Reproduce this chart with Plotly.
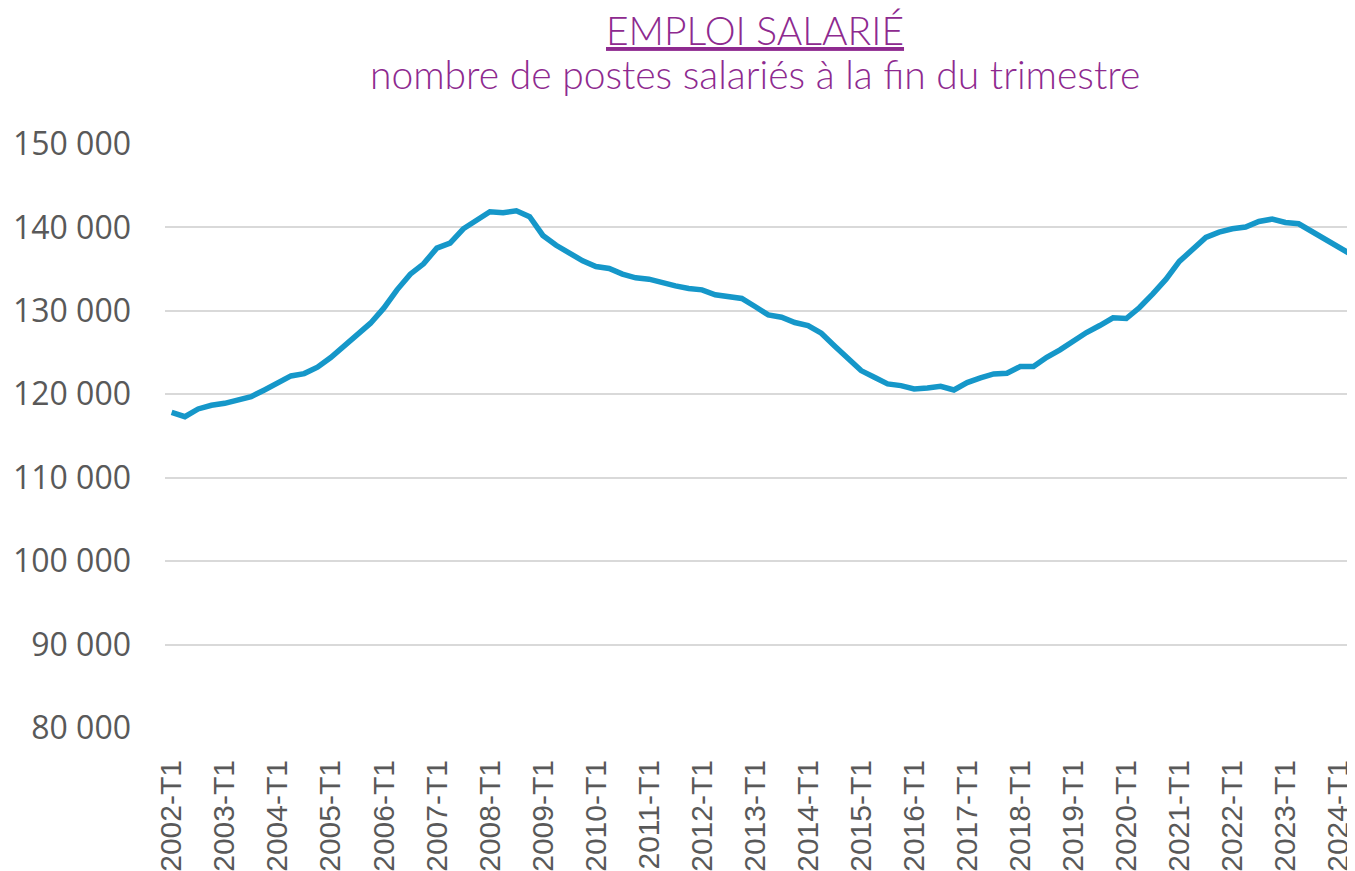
import plotly.graph_objects as go

years = list(range(2002, 2025))
quarters = [f"{y}-T{q}" for y in years for q in (1, 2, 3, 4)][:90]

emploi = [
    117840, 117320, 118240, 118680, 118920, 119240, 119720, 120520, 121440, 122200,
    122480, 123240, 124400, 125720, 127000, 128520, 130320, 132520, 134400, 135640,
    137520, 138120, 139840, 140840, 141880, 141760, 142000, 141280, 139040, 137860,
    136920, 136000, 135320, 135080, 134400, 133960, 133800, 133320, 133000, 132680,
    132520, 131920, 131720, 131480, 130520, 129520, 129240, 128600, 128240, 127320,
    125800, 124240, 122840, 122040, 121240, 121040, 120640, 120760, 120950, 120520,
    121400, 121960, 122440, 122520, 123320, 123320, 124440, 125320, 126400, 127400,
    128240, 129160, 129080, 130400, 132040, 133800, 135920, 137320, 138800, 139440,
    139840, 140040, 140720, 141000, 140600, 140440, 139520, 138640, 137640, 136720,
]

tick_labels = [f"{y}-T1" for y in years]
y_ticks = [80000, 90000, 100000, 110000, 120000, 130000, 140000, 150000]

title_main = "EMPLOI SALARIÉ"
title_sub = "nombre de postes salariés à la fin du trimestre"

TITLE_COLOR = "#8E2A8F"
TITLE_FONT = dict(family="Lato", size=39, color=TITLE_COLOR, weight=300)

fig = go.Figure()
fig.add_trace(go.Scatter(
    x=quarters, y=emploi, mode="lines",
    line=dict(color="#1597C9", width=5.5),
    hoverinfo="x+y",
))

fig.add_annotation(
    text=f"<u>{title_main}</u>", xref="paper", yref="paper",
    x=0.4954, y=1.1945, xanchor="center", yanchor="middle",
    showarrow=False, font=TITLE_FONT,
)
fig.add_annotation(
    text=title_sub, xref="paper", yref="paper",
    x=0.4954, y=1.1199, xanchor="center", yanchor="middle",
    showarrow=False, font=TITLE_FONT,
)

fig.update_layout(
    width=1347, height=863,
    paper_bgcolor="white", plot_bgcolor="white",
    margin=dict(l=157, r=0, t=136, b=143),
    separators=", ",
    showlegend=False,
    xaxis=dict(
        type="category",
        range=[-0.5, 89.25],
        tickmode="array",
        tickvals=tick_labels,
        ticktext=tick_labels,
        tickangle=-90,
        showgrid=False,
        showline=False,
        zeroline=False,
        ticks="",
        ticklabelstandoff=25,
        tickfont=dict(family="Liberation Sans", size=30, color="#595959"),
    ),
    yaxis=dict(
        range=[80000, 150000],
        tickmode="array",
        tickvals=y_ticks,
        tickformat=",d",
        showgrid=True,
        gridcolor="#D9D9D9",
        gridwidth=2,
        zeroline=False,
        showline=False,
        ticks="",
        ticklabelstandoff=33,
        tickfont=dict(family="Open Sans", size=32, color="#595959"),
    ),
)

fig.write_html("out.html")
